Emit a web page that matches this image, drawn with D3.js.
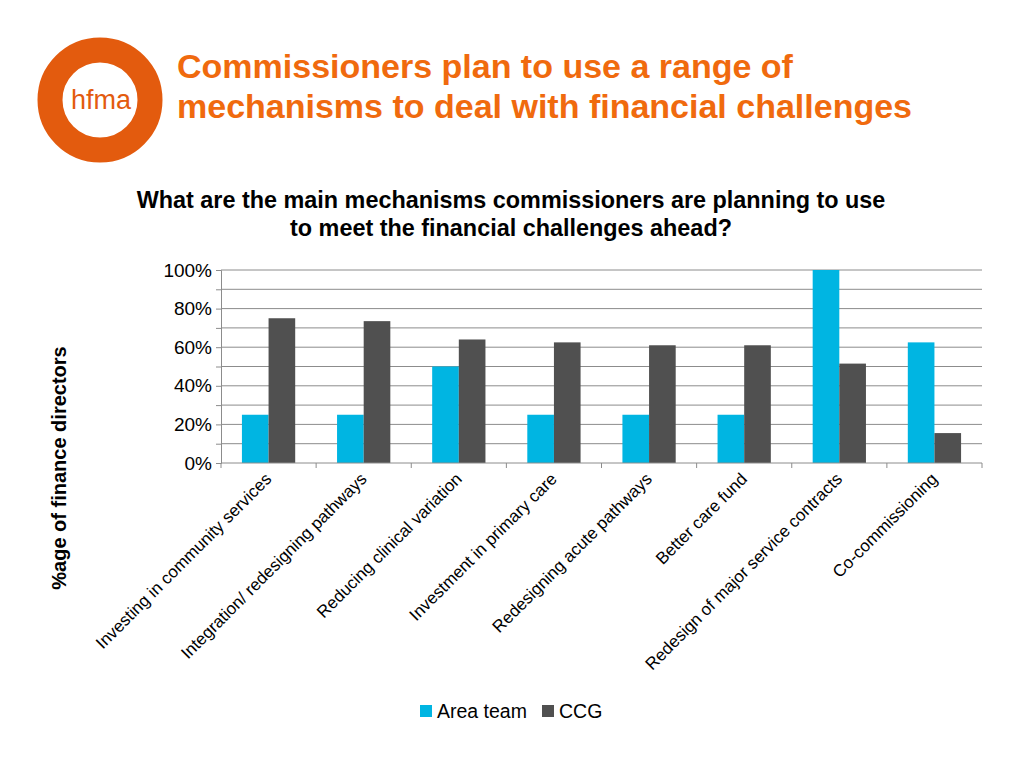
<!DOCTYPE html>
<html><head><meta charset="utf-8">
<script src="https://cdn.jsdelivr.net/npm/d3@7"></script>
<style>body{margin:0;background:#fff;font-family:"Liberation Sans",Arial,sans-serif}</style>
</head><body>
<svg id="c" width="1024" height="768" font-family="Liberation Sans, Arial, sans-serif"></svg>
<script>
const categories = ["Investing in community services","Integration/ redesigning pathways","Reducing clinical variation","Investment in primary care","Redesigning acute pathways","Better care fund","Redesign of major service contracts","Co-commissioning"];
const seriesNames = ["Area team","CCG"];
const areaTeam = [25,25,50,25,25,25,100,62.5];
const ccg = [75,73.5,64,62.5,61,61,51.5,15.5];
const yTicks = [0,20,40,60,80,100];
const colors = ["#00b5e2","#505050"];

const svg = d3.select("#c");
const orange = "#f06a0e";
// logo
svg.append("circle").attr("cx",100).attr("cy",100).attr("r",50).attr("fill","none").attr("stroke","#e35b0e").attr("stroke-width",25);
svg.append("text").attr("x",101).attr("y",109).attr("text-anchor","middle").attr("fill","#e35b0e").attr("font-size",27).text("hfma");
// title
const tt = svg.append("text").attr("fill",orange).attr("font-weight","bold").attr("font-size",34);
tt.append("tspan").attr("x",177).attr("y",78).text("Commissioners plan to use a range of");
tt.append("tspan").attr("x",177).attr("y",118).text("mechanisms to deal with financial challenges");
// chart title
const ct = svg.append("text").attr("fill","#000").attr("font-weight","bold").attr("font-size",23.4).attr("text-anchor","middle");
ct.append("tspan").attr("x",511).attr("y",208).text("What are the main mechanisms commissioners are planning to use");
ct.append("tspan").attr("x",511).attr("y",236).text("to meet the financial challenges ahead?");

const L=221,R=982,T=270,B=463;
const x = d3.scaleBand().domain(categories).range([L,R]).paddingInner(0.44).paddingOuter(0.22);
const xs = d3.scaleBand().domain(seriesNames).range([0,x.bandwidth()]);
const y = d3.scaleLinear().domain([0,100]).range([B,T]);

// gridlines every 10
const g = svg.append("g");
g.selectAll("line.grid").data(d3.range(10,101,10)).join("line")
 .attr("x1",L).attr("x2",R).attr("y1",d=>y(d)).attr("y2",d=>y(d)).attr("stroke","#8c8c8c").attr("stroke-width",1);

// bars
const data = categories.map((c,i)=>({c,vals:[areaTeam[i],ccg[i]]}));
const grp = svg.append("g").selectAll("g").data(data).join("g").attr("transform",d=>`translate(${x(d.c)},0)`);
grp.selectAll("rect").data(d=>d.vals.map((v,j)=>({v,s:seriesNames[j],j}))).join("rect")
 .attr("x",d=>xs(d.s)).attr("width",xs.bandwidth()).attr("y",d=>y(d.v)).attr("height",d=>B-y(d.v)).attr("fill",d=>colors[d.j]);

// y axis
const ya = svg.append("g").attr("transform",`translate(${L},0)`)
 .call(d3.axisLeft(y).tickValues(d3.range(0,101,10)).tickSize(5).tickFormat(d=>yTicks.includes(d)?d+"%":""));
ya.select(".domain").attr("stroke","#8c8c8c");
ya.selectAll(".tick line").attr("stroke","#8c8c8c");
ya.selectAll(".tick text").attr("font-size",19).attr("fill","#000").attr("font-family","Liberation Sans, Arial").attr("dx",-1);

// x axis
const step = (R-L)/categories.length;
const xa = svg.append("g").attr("transform",`translate(0,${B})`);
xa.append("line").attr("x1",L).attr("x2",R).attr("stroke","#8c8c8c");
xa.selectAll("line.t").data(d3.range(categories.length+1)).join("line")
 .attr("x1",i=>L+i*step).attr("x2",i=>L+i*step).attr("y1",0).attr("y2",5).attr("stroke","#8c8c8c");
xa.selectAll("text").data(categories).join("text")
 .attr("transform",d=>`translate(${x(d)+x.bandwidth()/2+4},17) rotate(-45)`)
 .attr("text-anchor","end").attr("font-size",17).attr("fill","#000").text(d=>d);

// y label
svg.append("text").attr("transform","translate(66,468) rotate(-90)").attr("text-anchor","middle")
 .attr("font-weight","bold").attr("font-size",20).text("%age of finance directors");

// legend
const lg = svg.append("g");
const items=[{n:"Area team",x:420},{n:"CCG",x:542}];
items.forEach((it,i)=>{
 lg.append("rect").attr("x",it.x).attr("y",705).attr("width",12).attr("height",12).attr("fill",colors[i]);
 lg.append("text").attr("x",it.x+17).attr("y",718).attr("font-size",19.5).text(it.n);
});
</script>
</body></html>
